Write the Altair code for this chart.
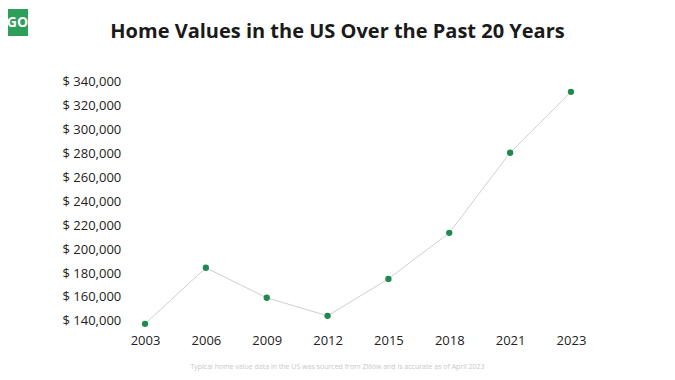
import altair as alt
import pandas as pd

years = ["2003", "2006", "2009", "2012", "2015", "2018", "2021", "2023"]
values = [137500, 184400, 159300, 144200, 175100, 213600, 280600, 331600]
y_ticks = [140000, 160000, 180000, 200000, 220000, 240000, 260000, 280000, 300000, 320000, 340000]
title_text = "Home Values in the US Over the Past 20 Years"
note_text = "Typical home value data in the US was sourced from Zillow and is accurate as of April 2023"

df = pd.DataFrame({"year": years, "value": values})

FONT = "Open Sans"
GREEN = "#1f8a4e"

x_enc = alt.X("year:O", sort=years,
              scale=alt.Scale(type="point", padding=0.28),
              axis=alt.Axis(title=None, labelAngle=0, domain=False, ticks=False, tickSize=0,
                            labelPadding=6, labelFontSize=13, labelColor="#222222",
                            labelFont=FONT, grid=False))
y_enc = alt.Y("value:Q",
              scale=alt.Scale(domain=[134000, 344000], nice=False, zero=False),
              axis=alt.Axis(title=None, values=y_ticks, domain=False, ticks=False, tickSize=0,
                            grid=False, labelAlign="left", labelPadding=66,
                            labelFontSize=13, labelColor="#222222", labelFont=FONT,
                            labelExpr="'$ ' + format(datum.value, ',')"))

base = alt.Chart(df)
line = base.mark_line(color="#cfcfcf", strokeWidth=1).encode(x=x_enc, y=y_enc)
pts = base.mark_circle(color=GREEN, size=40, opacity=1).encode(x=x_enc, y=y_enc)

ann = alt.Chart(pd.DataFrame({"t": [title_text]}))
title = ann.mark_text(fontSize=20, fontWeight="bold", font=FONT, color="#1a1a1a",
                      align="center", baseline="alphabetic").encode(
    text="t:N", x=alt.value(209.5), y=alt.value(-39))

note = alt.Chart(pd.DataFrame({"t": [note_text]})).mark_text(
    fontSize=7, font=FONT, color="#c8c8c8", align="center", baseline="alphabetic").encode(
    text="t:N", x=alt.value(209.5), y=alt.value(292))

logo_bg = alt.Chart(pd.DataFrame({"t": ["GO"]})).mark_rect(color="#2e9e5b").encode(
    x=alt.value(-121), x2=alt.value(-100), y=alt.value(-68), y2=alt.value(-41))
logo_txt = alt.Chart(pd.DataFrame({"t": ["GO"]})).mark_text(
    fontSize=14, fontWeight="bold", font=FONT, color="white", align="center", baseline="middle").encode(
    text="t:N", x=alt.value(-110.5), y=alt.value(-54))

chart = alt.layer(line, pts, title, note, logo_bg, logo_txt).properties(
    width=460, height=251,
    autosize=alt.AutoSizeParams(type="none"),
    padding={"left": 120, "top": 69, "right": 79, "bottom": 44},
    background="white"
).configure_view(stroke=None)

chart.save("out.html", embed_options={"renderer": "svg", "actions": False})
